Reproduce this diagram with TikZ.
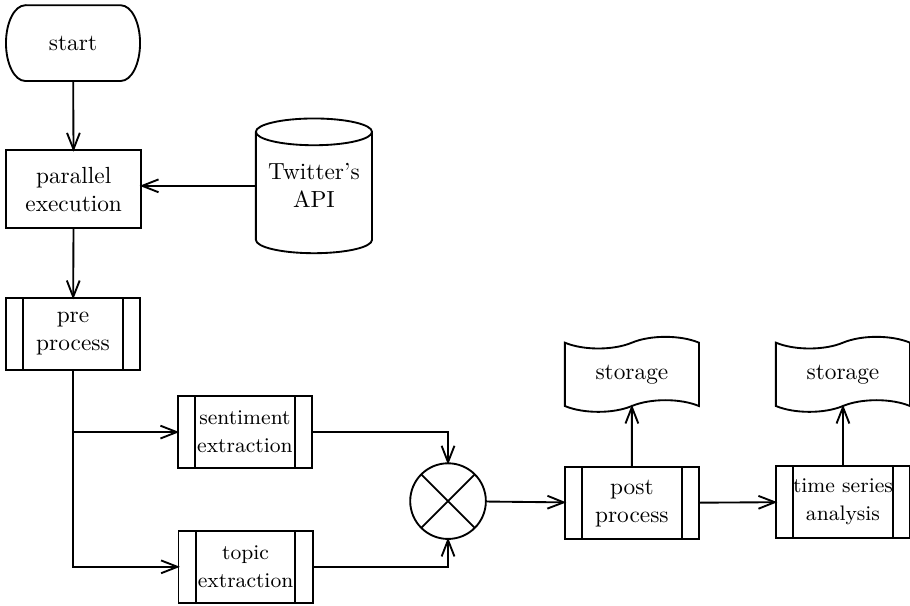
\documentclass[tikz,border=0pt]{standalone}
\usepackage{tikz}
\usetikzlibrary{shapes,arrows.meta,calc}
\tikzstyle{arrow} = [draw, -{Straight Barb[length=7pt,width=5.5pt]}, shorten >=-1pt]
\tikzstyle{line} = [draw]
\tikzstyle{terminal} = [outer sep=0pt, minimum width=2.02cm, minimum height=1.14cm]
\tikzstyle{block} = [draw, rectangle, minimum width=2.03cm, minimum height=1.17cm, align=center]
\tikzstyle{subproc} = [draw, rectangle, minimum width=2.02cm, minimum height=1.08cm, align=center,
  path picture={\draw ([xshift=0.26cm]path picture bounding box.north west) -- ([xshift=0.26cm]path picture bounding box.south west)
    ([xshift=-0.26cm]path picture bounding box.north east) -- ([xshift=-0.26cm]path picture bounding box.south east);}]
% text depth lifts the label back to the middle of the body
\tikzstyle{database} = [draw, cylinder, shape border rotate=90, aspect=0.25, minimum width=1.75cm, minimum height=2.03cm,
  align=center, text depth=9pt]
\tikzstyle{storage} = [draw, tape, minimum width=2.02cm, minimum height=1.13cm]
\tikzstyle{junction} = [draw, circle, minimum size=1.14cm,
  path picture={\draw (path picture bounding box.north west) -- (path picture bounding box.south east)
    (path picture bounding box.south west) -- (path picture bounding box.north east);}]

\begin{document}
\begin{tikzpicture}[auto, thick]
      \useasboundingbox (0,0) rectangle (13.71,9.13);

      \node (start) at (1.10, 8.48) [terminal] {start};
      % terminal outline with elliptic ends
      \draw ([xshift=0.29cm]start.north west) -- ([xshift=-0.29cm]start.north east)
        arc[start angle=90, end angle=-90, x radius=0.29cm, y radius=0.57cm]
        -- ([xshift=0.29cm]start.south west)
        arc[start angle=270, end angle=90, x radius=0.29cm, y radius=0.57cm] -- cycle;

      \node (parallel) at (1.11, 6.28) [block] {parallel\\execution};
      \node (api) at (4.73, 6.33) [database, anchor=shape center] {Twitter's\\API};
      \node (pre) at (1.10, 4.10) [subproc] {pre\\process};
      \node (sentiment) at (3.69, 2.62) [subproc] {\small sentiment\\\small extraction};
      \node (topic) at (3.70, 0.59) [subproc] {\small topic\\\small extraction};
      \node (join) at (6.75, 1.58) [junction] {};
      \node (post) at (9.52, 1.55) [subproc] {post\\process};
      \node (series) at (12.70, 1.57) [subproc] {\small time series\\\small analysis};
      \node (store1) at (9.52, 3.49) [storage] {storage};
      \node (store2) at (12.70, 3.49) [storage] {storage};

      \coordinate (fork) at (pre.south |- sentiment.west);

      \path [arrow] (start) -- (parallel);
      \path [arrow] (api.shape center -| api.west) -- (api.shape center -| parallel.east);
      \path [arrow] (parallel) -- (pre);
      \path [arrow] (pre.south) -- (pre.south |- topic.west) -- (topic.west);
      \path [arrow] (fork) -- (sentiment.west);
      \path [arrow] (sentiment.east) -| (join.north);
      \path [arrow] (topic.east) -| (join.south);
      \path [arrow] (join) -- (post);
      \path [arrow] (post) -- (series);
      \path [arrow] (post) -- (store1);
      \path [arrow] (series) -- (store2);
    \end{tikzpicture}
\end{document}
